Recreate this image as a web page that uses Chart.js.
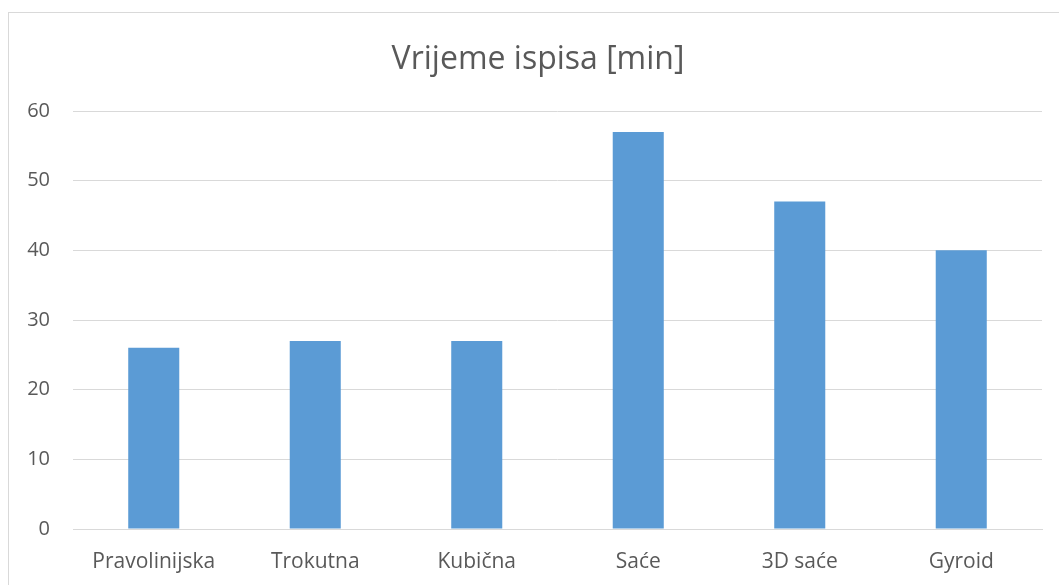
<!DOCTYPE html>
<html>
<head>
<meta charset="utf-8">
<script src="https://cdn.jsdelivr.net/npm/chart.js@4.4.1/dist/chart.umd.min.js"></script>
<style>
  html, body { margin: 0; padding: 0; background: #fff; }
  #wrap { width: 1059px; height: 585px; position: relative; }
</style>
</head>
<body>
<div id="wrap"><canvas id="printChart"></canvas></div>
<script>
const categories = ["Pravolinijska", "Trokutna", "Kubična", "Saće", "3D saće", "Gyroid"];
const printTimes = [26, 27, 27, 57, 47, 40];
const yTicks = [0, 10, 20, 30, 40, 50, 60];
const chartTitle = "Vrijeme ispisa [min]";

const textColor = "#595959";
const gridColor = "#d9d9d9";
const barColor = "#5b9bd5";

// light frame like the office chart border + title centred on the frame
const framePlugin = {
  id: "frame",
  beforeDraw(chart) {
    const ctx = chart.ctx;
    ctx.save();
    ctx.strokeStyle = "#d9d9d9";
    ctx.lineWidth = 1;
    ctx.strokeRect(8.5, 12.5, chart.width + 10, chart.height + 10);
    ctx.restore();
  },
  afterDraw(chart) {
    const ctx = chart.ctx;
    ctx.save();
    ctx.fillStyle = textColor;
    ctx.font = "32px 'Open Sans', sans-serif";
    ctx.textAlign = "center";
    ctx.textBaseline = "alphabetic";
    ctx.fillText(chartTitle, 538, 69);
    ctx.restore();
  },
};

const ctx = document.getElementById("printChart").getContext("2d");
new Chart(ctx, {
  type: "bar",
  data: {
    labels: categories,
    datasets: [
      {
        label: chartTitle,
        data: printTimes,
        backgroundColor: barColor,
        categoryPercentage: 1,
        barPercentage: 0.316,
      },
    ],
  },
  options: {
    responsive: true,
    maintainAspectRatio: false,
    animation: false,
    layout: {
      padding: { left: 0, right: 17, top: 111, bottom: 0 },
    },
    plugins: {
      legend: { display: false },
      tooltip: { enabled: false },
      title: { display: false },
    },
    scales: {
      x: {
        grid: { display: false },
        border: { display: true, color: gridColor, width: 1 },
        ticks: {
          color: textColor,
          font: { family: "'Open Sans', sans-serif", size: 21 },
          padding: 12,
          maxRotation: 0,
        },
        afterFit: (scale) => { scale.height = 56; },
      },
      y: {
        min: 0,
        max: 60,
        afterBuildTicks: (scale) => {
          scale.ticks = yTicks.map((v) => ({ value: v }));
        },
        grid: { color: gridColor, drawTicks: false },
        border: { display: false },
        ticks: {
          color: textColor,
          font: { family: "'Open Sans', sans-serif", size: 20 },
          padding: 23,
        },
        afterFit: (scale) => { scale.width = 73; },
      },
    },
  },
  plugins: [framePlugin],
});
</script>
</body>
</html>
